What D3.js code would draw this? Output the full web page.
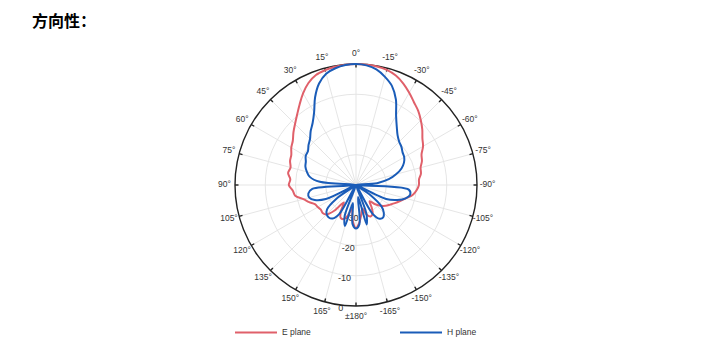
<!DOCTYPE html>
<html>
<head>
<meta charset="utf-8">
<script src="https://cdn.jsdelivr.net/npm/d3@7"></script>
<style>
  body { margin: 0; background: #fff; }
  svg { display: block; }
</style>
</head>
<body>
<div id="chart"></div>
<script>
// angles in degrees, positive = counter-clockwise from the top (matlab style)
const angles = [-180, -175, -170, -165, -160, -155, -150, -145, -140, -135, -130, -125,
  -120, -115, -110, -105, -100, -95, -90, -85, -80, -75, -70, -65, -60, -55, -50, -45,
  -40, -35, -30, -25, -20, -15, -10, -5, 0, 5, 10, 15, 20, 25, 30, 35, 40, 45, 50, 55,
  60, 65, 70, 75, 80, 85, 90, 95, 100, 105, 110, 115, 120, 125, 130, 135, 140, 145,
  150, 155, 160, 165, 170, 175, 180];

// normalised gain in dB
const ePlane = [-25.8, -27.5, -30, -32, -29.5, -28.5, -29, -31, -33, -31, -29.3, -28,
  -27, -25.8, -24.5, -23, -21, -19.9, -19.2, -19.1, -18.2, -17.9, -16.8, -16.1, -14.4, -13.2, -11.4, -9.7,
  -8, -6.6, -4.8, -3, -1.5, -0.6, -0.2, -0.1, 0, -0.1, -0.3, -0.7, -1.3, -2.8, -5, -7.5,
  -9.7, -11.5, -13, -14.5, -15.3, -16.4, -16.8, -17.6, -17.2, -18.2, -17.8, -19, -19.6, -22,
  -23.5, -25, -25.4, -25.8, -25.6, -26.2, -29, -33, -30, -28, -28, -29.5, -32, -28, -25.8];

const hPlane = [-25.6, -27, -36, -26.5, -30, -40, -29, -26.4, -26, -27, -29, -34,
  -40, -29, -25.5, -23, -21.8, -22.5, -40, -33, -29, -26.3, -24, -22.5, -21.6, -21.2, -20.4, -19.8,
  -18.6, -16.5, -13.5, -8.8, -5.2, -3, -1.2, -0.3, 0, -0.2, -0.8, -1.9, -4.3, -8, -12.3, -15,
  -16.7, -18.5, -19.5, -20.6, -20.8, -21.7, -22.2, -23.2, -24.5, -28, -40, -25.5, -24, -24,
  -25.5, -29, -40, -32, -27.5, -26.3, -26, -26.5, -29, -40, -29, -26, -34, -27, -25.6];

const rings = [-30, -20, -10, 0];
const spokes = [0, 15, 30, 45, 60, 75, 90, 105, 120, 135, 150, 165, 180,
  -165, -150, -135, -120, -105, -90, -75, -60, -45, -30, -15];
const series = [
  {name: "E plane", values: ePlane, color: "#e0606a"},
  {name: "H plane", values: hPlane, color: "#1a5cb8"}
];

const width = 704, height = 361;
const cx = 356, cy = 185, R = 121;

const svg = d3.select("#chart")
  .append("svg")
  .attr("width", width)
  .attr("height", height);

svg.append("text")
  .attr("x", 32)
  .attr("y", 27)
  .style("font-family", "'Noto Sans CJK SC', sans-serif")
  .style("font-size", "16px")
  .style("font-weight", "bold")
  .text("方向性：");

const r = d3.scaleLinear().domain([-40, 0]).range([0, R]).clamp(true);
// ccw degrees -> d3 radial angle (clockwise radians from the top)
const rad = d => -d * Math.PI / 180;

const g = svg.append("g").attr("transform", `translate(${cx},${cy})`);

// grid
g.selectAll(".ring")
  .data(rings.slice(0, -1))
  .join("circle")
  .attr("r", d => r(d))
  .attr("fill", "none")
  .attr("stroke", "#e2e2e2")
  .attr("stroke-width", 0.9);

g.selectAll(".spoke")
  .data(spokes)
  .join("line")
  .attr("x2", d => R * Math.sin(rad(d)))
  .attr("y2", d => -R * Math.cos(rad(d)))
  .attr("stroke", "#e2e2e2")
  .attr("stroke-width", 0.9);

// radial tick labels along the 173 deg line
g.selectAll(".rlabel")
  .data(rings)
  .join("text")
  .attr("x", d => (r(d) + 3.5) * Math.sin(rad(173)))
  .attr("y", d => -(r(d) + 3.5) * Math.cos(rad(173)))
  .attr("text-anchor", "middle")
  .attr("dominant-baseline", "middle")
  .style("font-family", "'Liberation Sans', Arial, sans-serif")
  .style("font-size", "9px")
  .style("fill", "#333")
  .text(d => d);

// outer circle + ticks
g.append("circle")
  .attr("r", R)
  .attr("fill", "none")
  .attr("stroke", "#222")
  .attr("stroke-width", 1.4);

g.selectAll(".tick")
  .data(spokes)
  .join("line")
  .attr("x1", d => R * Math.sin(rad(d)))
  .attr("y1", d => -R * Math.cos(rad(d)))
  .attr("x2", d => (R - 3.5) * Math.sin(rad(d)))
  .attr("y2", d => -(R - 3.5) * Math.cos(rad(d)))
  .attr("stroke", "#222")
  .attr("stroke-width", 1.4);

g.selectAll(".alabel")
  .data(spokes)
  .join("text")
  .attr("x", d => 131.5 * Math.sin(rad(d)))
  .attr("y", d => -131.5 * Math.cos(rad(d)))
  .attr("text-anchor", "middle")
  .attr("dominant-baseline", "middle")
  .style("font-family", "'Liberation Sans', Arial, sans-serif")
  .style("font-size", "8.5px")
  .style("fill", "#333")
  .text(d => (d === 180 ? "±180" : d) + "°");

// patterns
const line = d3.lineRadial()
  .angle((d, i) => rad(angles[i]))
  .radius(d => r(d))
  .curve(d3.curveCatmullRomClosed.alpha(0.5));

g.selectAll(".pattern")
  .data(series)
  .join("path")
  .attr("d", d => line(d.values.slice(0, -1)))
  .attr("fill", "none")
  .attr("stroke", d => d.color)
  .attr("stroke-width", 2)
  .attr("stroke-linejoin", "round");

// legend
const legend = svg.selectAll(".legend")
  .data(series)
  .join("g")
  .attr("transform", (d, i) => `translate(${i ? 400 : 235},332.5)`);

legend.append("line")
  .attr("x2", 42)
  .attr("stroke", d => d.color)
  .attr("stroke-width", 2);

legend.append("text")
  .attr("x", 47)
  .attr("dominant-baseline", "middle")
  .style("font-family", "'Liberation Sans', Arial, sans-serif")
  .style("font-size", "8.5px")
  .style("fill", "#333")
  .text(d => d.name);
</script>
</body>
</html>
